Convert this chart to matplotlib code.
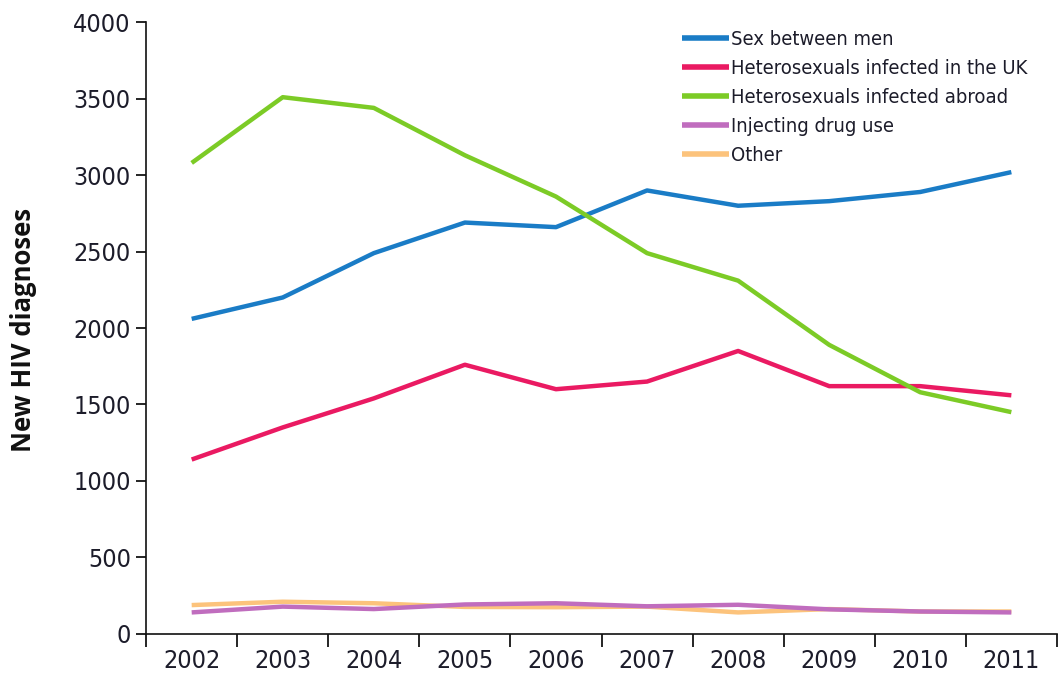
import matplotlib.pyplot as plt
import numpy as np

years = ['2002', '2003', '2004', '2005', '2006', '2007', '2008', '2009', '2010', '2011']
msm = [2060, 2200, 2490, 2690, 2660, 2900, 2800, 2830, 2890, 3020]
het_uk = [1140, 1350, 1540, 1760, 1600, 1650, 1850, 1620, 1620, 1560]
het_abroad = [3080, 3510, 3440, 3130, 2860, 2490, 2310, 1890, 1580, 1450]
idu = [140, 178, 162, 192, 200, 180, 190, 160, 146, 140]
other = [188, 210, 200, 176, 174, 178, 140, 162, 146, 146]

labels = ['Sex between men', 'Heterosexuals infected in the UK',
          'Heterosexuals infected abroad', 'Injecting drug use', 'Other']
colors = ['#1a7cc6', '#ea1a62', '#7ccb26', '#c06dbe', '#fcc37c']

tick_font = {'family': 'DejaVu Sans', 'stretch': 'condensed', 'size': 18}

fig = plt.figure(figsize=(10.59, 6.75), dpi=100)
ax = fig.add_axes([0.138, 0.061, 0.860, 0.906])

x = np.arange(len(years))
series = [msm, het_uk, het_abroad, idu, other]
order = [4, 3, 0, 1, 2]
lines = {}
for i in order:
    ln, = ax.plot(x, series[i], color=colors[i], linewidth=3.2,
                  solid_capstyle='butt', label=labels[i], zorder=3)
    lines[i] = ln

ax.set_xlim(-0.5, len(years) - 0.5)
ax.set_ylim(0, 4000)
ax.set_yticks(np.arange(0, 4001, 500))
ax.set_xticks(np.arange(-0.5, len(years), 1.0))
ax.set_xticklabels([])
ax.set_xticks(x, minor=True)
ax.set_xticklabels(years, minor=True, color='#1c1c2a', **tick_font)
ax.tick_params(axis='x', which='major', direction='out', length=9, width=1.2)
ax.tick_params(axis='x', which='minor', length=0, pad=11)
ax.tick_params(axis='y', direction='out', length=7, width=1.2, pad=4)
ax.set_yticklabels([str(v) for v in range(0, 4001, 500)], color='#1c1c2a', **tick_font)

for s in ['top', 'right']:
    ax.spines[s].set_visible(False)
for s in ['left', 'bottom']:
    ax.spines[s].set_linewidth(1.2)
    ax.spines[s].set_color('#111111')

ax.set_ylabel('New HIV diagnoses', fontsize=18.5, fontweight='bold',
              family='Open Sans', color='#111111')
ax.yaxis.set_label_coords(-0.12, 0.497)

ax.legend([lines[i] for i in range(5)], labels, loc='upper left',
          bbox_to_anchor=(0.588, 0.988), frameon=False, handlelength=2.35,
          handletextpad=0.1, labelspacing=0.5, borderpad=0, borderaxespad=0,
          prop={'family': 'DejaVu Sans', 'stretch': 'condensed', 'size': 14.5})
for h in ax.get_legend().get_lines():
    h.set_linewidth(4)
for t in ax.get_legend().get_texts():
    t.set_color('#1c1c2a')

fig.savefig('out.png', dpi=100)
